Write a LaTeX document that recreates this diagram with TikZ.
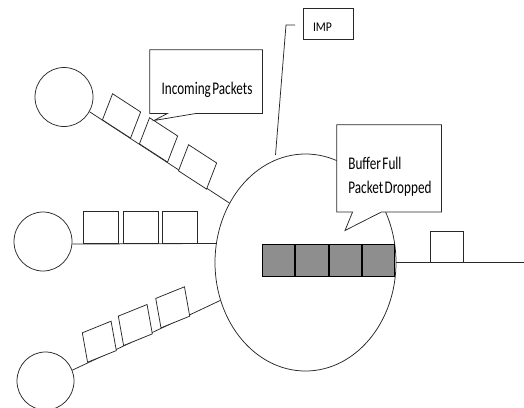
\documentclass[tikz,border=0pt]{standalone}
\usepackage{fontspec}
\newfontfamily\notefont[FakeStretch=0.74, WordSpace=0.5]{Carlito}
\newfontfamily\tagfont[FakeStretch=0.88]{Carlito}
\usetikzlibrary{shapes.geometric,calc}
\definecolor{bufgray}{RGB}{142,142,142}
\definecolor{inkline}{RGB}{40,40,40}

\begin{document}
\begin{tikzpicture}[x=1pt,y=-1pt,
  line width=0.75pt, draw=inkline,
  host/.style={draw=inkline, ellipse, inner sep=0pt},
  pkt/.style={draw=inkline, rectangle, inner sep=0pt, anchor=south west, fill=white},
  uppkt/.style={pkt, minimum width=33.5pt, minimum height=27.4pt, rotate=-33, xslant=-0.21},
  lowpkt/.style={pkt, minimum width=31pt, minimum height=29.2pt, rotate=22, xslant=0.21},
  slot/.style={draw=black, rectangle, inner sep=0pt, fill=bufgray,
    minimum width=32.25pt, minimum height=32pt, line width=1pt, anchor=west},
  calloutbox/.style={rectangle, inner sep=0pt},
  calloutline/.style={draw=inkline, fill=white, line join=miter},
  notetext/.style={font=\notefont\fontsize{17.8}{22}\selectfont, inner sep=0pt, text=black},
  tagtext/.style={font=\tagfont\fontsize{13.3}{16}\selectfont, inner sep=0pt, text=black},
]
\fill[white] (0,0) rectangle (524,407);
\useasboundingbox (0,0) rectangle (524,407);

% hosts and the IMP
\node[host, minimum width=58pt, minimum height=59pt] (hostA) at (64,97) {};
\node[host, minimum width=58pt, minimum height=59pt] (hostB) at (43,241.5) {};
\node[host, minimum width=57pt, minimum height=58pt] (hostC) at (45.5,381) {};
\node[host, minimum width=181pt, minimum height=217pt] (imp) at (305.5,262.5) {};

% input lines
\draw (hostA.-30) -- (imp.142.7);
\draw (hostB.-5) -- (imp.168.3);
\draw (hostC.22.8) -- (imp.204.8);

% output line
\coordinate (outend) at (524,262.5);
\draw (imp.east) -- (outend);

% packets on the upper line
\node[uppkt] (pa1) at (102,120) {};
\node[uppkt] (pa2) at (139,144) {};
\node[uppkt] (pa3) at (178,171) {};

% packets on the middle line
\node[pkt, minimum width=35pt, minimum height=32pt] (pb1) at (83,243.5) {};
\node[pkt, minimum width=35pt, minimum height=32pt] (pb2) at (122.5,243.5) {};
\node[pkt, minimum width=35pt, minimum height=32pt] (pb3) at (162,243.5) {};

% packets on the lower line
\node[lowpkt] (pc1) at (87.3,362.7) {};
\node[lowpkt] (pc2) at (123.3,346) {};
\node[lowpkt] (pc3) at (160.7,328.3) {};

% outgoing packet
\node[pkt, minimum width=33pt, minimum height=31pt] (pout) at (430,262.5) {};

% full buffer inside the IMP
\node[slot] (s1) at (262,260) {};
\node[slot] (s2) at (s1.east) {};
\node[slot] (s3) at (s2.east) {};
\node[slot] (s4) at (s3.east) {};

% "Incoming Packets" callout
\node[calloutbox, minimum width=112pt, minimum height=63pt] (incbox) at (206,81.5) {};
\coordinate (inctip) at (154,120.5);
\draw[calloutline] (incbox.north west) -- (incbox.north east) -- (incbox.south east)
  -- ($(incbox.south west)+(47,0)$) -- (inctip) -- ($(incbox.south west)+(18,0)$)
  -- (incbox.south west) -- cycle;
\node[notetext, anchor=base] (inctext) at (207,94) {Incoming Packets};

% "Buffer Full" callout
\node[calloutbox, minimum width=104pt, minimum height=86.5pt] (bufbox) at (389,168.25) {};
\coordinate (buftip) at (345,230.5);
\draw[calloutline] (bufbox.north west) -- (bufbox.north east) -- (bufbox.south east)
  -- ($(bufbox.south west)+(45,0)$) -- (buftip) -- ($(bufbox.south west)+(16,0)$)
  -- (bufbox.south west) -- cycle;
\node[notetext, anchor=base west] (buftext1) at (348,169) {Buffer Full};
\node[notetext, anchor=base west] (buftext2) at (348,193) {Packet Dropped};

% "IMP" label with its leader line
\node[draw=inkline, rectangle, inner sep=0pt, minimum width=50pt, minimum height=31pt] (impbox) at (328,23.5) {};
\node[tagtext, anchor=base] (imptext) at (322.5,31.7) {IMP};
\coordinate (impstart) at (295,25);
\coordinate (impknee) at (286,25);
\coordinate (impfoot) at (275.5,155);
\draw (impstart) -- (impknee) -- (impfoot);
\end{tikzpicture}
\end{document}
